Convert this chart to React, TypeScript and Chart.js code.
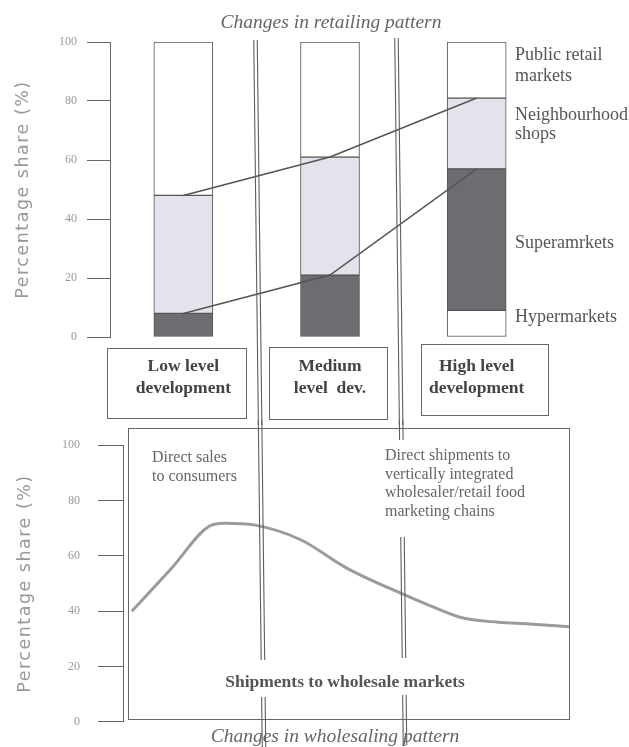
import React, { useEffect, useRef } from 'react';
import { Chart, registerables } from 'chart.js';

Chart.register(...registerables);

// ---------- data ----------
const developmentLevels = [
  ['Low level', 'development'],
  ['Medium', 'level  dev.'],
  ['High level', 'development'],
];
const hypermarkets = [0, 0, 9];
const supermarkets = [8, 21, 48];
const neighbourhoodShops = [40, 40, 24];
const publicRetailMarkets = [52, 39, 19];
const shareTicks = [0, 20, 40, 60, 80, 100];

// wholesaling curve (development index 0..100 across the panel)
const developmentIndex = [1, 10, 18.6, 22, 29, 39, 50, 62, 68.5, 76, 84, 91, 100];
const wholesaleShare = [40, 55.5, 70.8, 71.8, 71.1, 66, 55.3, 46.4, 42, 37.5, 36, 35.4, 34.4];

// ---------- decoration helpers ----------
type TextItem = { text: string; x: number; y: number; font: string; color: string; align: CanvasTextAlign };
type DoubleLine = { x0: number; y0: number; x1: number; y1: number; segments: number[][] };

const SERIF = '"Liberation Serif", "DejaVu Serif", serif';

const doubleLines: DoubleLine[] = [
  { x0: 255.5, y0: 40, x1: 264, y1: 747, segments: [[40, 660], [697, 747]] },
  { x0: 396.5, y0: 38, x1: 405, y1: 745, segments: [[38, 440], [537, 658], [695, 745]] },
];

const topTexts: TextItem[] = [
  { text: 'Changes in retailing pattern', x: 331, y: 23, font: `italic 19.5px ${SERIF}`, color: '#666', align: 'center' },
  { text: 'Public retail', x: 515, y: 55, font: `18px ${SERIF}`, color: '#555', align: 'left' },
  { text: 'markets', x: 515, y: 76, font: `18px ${SERIF}`, color: '#555', align: 'left' },
  { text: 'Neighbourhood', x: 515, y: 115, font: `18px ${SERIF}`, color: '#555', align: 'left' },
  { text: 'shops', x: 515, y: 134, font: `18px ${SERIF}`, color: '#555', align: 'left' },
  { text: 'Superamrkets', x: 515, y: 243, font: `18px ${SERIF}`, color: '#555', align: 'left' },
  { text: 'Hypermarkets', x: 515, y: 317, font: `18px ${SERIF}`, color: '#555', align: 'left' },
];

const bottomTexts: TextItem[] = [
  { text: 'Direct sales', x: 152, y: 458, font: `16px ${SERIF}`, color: '#666', align: 'left' },
  { text: 'to consumers', x: 152, y: 477, font: `16px ${SERIF}`, color: '#666', align: 'left' },
  { text: 'Direct shipments to', x: 385, y: 456, font: `16px ${SERIF}`, color: '#666', align: 'left' },
  { text: 'vertically integrated', x: 385, y: 475, font: `16px ${SERIF}`, color: '#666', align: 'left' },
  { text: 'wholesaler/retail food', x: 385, y: 493, font: `16px ${SERIF}`, color: '#666', align: 'left' },
  { text: 'marketing chains', x: 385, y: 512, font: `16px ${SERIF}`, color: '#666', align: 'left' },
  { text: 'Shipments to wholesale markets', x: 345, y: 682, font: `bold 17.5px ${SERIF}`, color: '#555', align: 'center' },
  { text: 'Changes in wholesaling pattern', x: 335, y: 737, font: `italic 19.5px ${SERIF}`, color: '#666', align: 'center' },
];

const topBoxes = [
  [107, 348, 246, 418],
  [269, 347, 387, 419],
  [421, 344, 548, 415],
];
const bottomBoxes = [[128, 428, 569, 719]];

function makeDecor(id: string, offsetY: number, texts: TextItem[], boxes: number[][]) {
  return {
    id,
    beforeDraw(chart: any) {
      const y = chart.scales.y;
      if (y && !y.__spaced) {
        const orig = y.drawTitle.bind(y);
        y.drawTitle = () => {
          const ctx = chart.ctx;
          ctx.save();
          (ctx as any).letterSpacing = '1.5px';
          orig();
          ctx.restore();
        };
        y.__spaced = true;
      }
    },
    afterDraw(chart: any) {
      const ctx: CanvasRenderingContext2D = chart.ctx;
      ctx.save();
      ctx.translate(0, -offsetY);
      ctx.strokeStyle = '#666';
      ctx.lineWidth = 1;
      boxes.forEach(([x1, y1, x2, y2]) => {
        ctx.strokeRect(x1 + 0.5, y1 + 0.5, x2 - x1, y2 - y1);
      });
      ctx.strokeStyle = '#5e5e5e';
      ctx.lineWidth = 1.1;
      doubleLines.forEach((l) => {
        const xAt = (y: number) => l.x0 + ((l.x1 - l.x0) * (y - l.y0)) / (l.y1 - l.y0);
        l.segments.forEach(([ya, yb]) => {
          [-1.75, 1.75].forEach((d) => {
            ctx.beginPath();
            ctx.moveTo(xAt(ya) + d, ya);
            ctx.lineTo(xAt(yb) + d, yb);
            ctx.stroke();
          });
        });
      });
      texts.forEach((t) => {
        ctx.font = t.font;
        ctx.fillStyle = t.color;
        ctx.textAlign = t.align;
        ctx.textBaseline = 'middle';
        ctx.fillText(t.text, t.x, t.y);
      });
      ctx.restore();
    },
  };
}

function yAxis(width: number, tickLength: number, labelPad: number, titleTop: number) {
  return {
    min: 0,
    max: 100,
    afterBuildTicks: (s: any) => {
      s.ticks = shareTicks.map((v) => ({ value: v }));
    },
    afterFit: (s: any) => {
      s.width = width;
    },
    grid: { drawOnChartArea: false, drawTicks: true, tickLength, color: '#666', lineWidth: 1 },
    border: { display: true, color: '#666', width: 1 },
    ticks: { font: { family: 'Liberation Serif', size: 12 }, color: '#999', padding: labelPad },
    title: {
      display: true,
      text: 'Percentage share (%)',
      font: { family: 'DejaVu Sans', size: 17.5 },
      color: '#999',
      padding: { top: titleTop, bottom: 0 },
    },
  };
}

export default function App() {
  const topRef = useRef<HTMLCanvasElement>(null);
  const bottomRef = useRef<HTMLCanvasElement>(null);

  useEffect(() => {
    const superTop = hypermarkets.map((h, i) => h + supermarkets[i]);
    const neighTop = superTop.map((s, i) => s + neighbourhoodShops[i]);
    const barStyle = { borderColor: '#555', borderWidth: 1, borderSkipped: false, barThickness: 59, order: 1 };

    const top = new Chart(topRef.current!, {
      type: 'bar',
      data: {
        labels: developmentLevels as any,
        datasets: [
          { label: 'Hypermarkets', data: hypermarkets, backgroundColor: '#ffffff', ...barStyle } as any,
          { label: 'Supermarkets', data: supermarkets, backgroundColor: '#6c6c71', ...barStyle },
          { label: 'Neighbourhood shops', data: neighbourhoodShops, backgroundColor: '#e3e3ec', ...barStyle },
          { label: 'Public retail markets', data: publicRetailMarkets, backgroundColor: '#ffffff', ...barStyle },
          {
            type: 'line', label: 'Supermarkets trend', data: superTop, stack: 't1', order: 0,
            borderColor: '#555', borderWidth: 1.5, pointRadius: 0, tension: 0,
          },
          {
            type: 'line', label: 'Neighbourhood trend', data: neighTop, stack: 't2', order: 0,
            borderColor: '#555', borderWidth: 1.5, pointRadius: 0, tension: 0,
          },
        ],
      },
      options: {
        responsive: false,
        maintainAspectRatio: false,
        animation: false,
        layout: { padding: { top: 42, right: 79, bottom: 0, left: 0 } },
        plugins: { legend: { display: false }, tooltip: { enabled: false } },
        scales: {
          x: {
            stacked: true,
            grid: { display: false, drawTicks: false },
            border: { display: false },
            ticks: {
              font: { family: 'Liberation Serif', size: 17.5, weight: 'bold', lineHeight: '22px' },
              color: '#444',
              padding: 18,
            },
            afterFit: (s: any) => {
              s.height = 88;
            },
          },
          y: { stacked: true, ...yAxis(110, 23, 10, 13) } as any,
        },
      },
      plugins: [makeDecor('decorTop', 0, topTexts, topBoxes)],
    });

    const bottom = new Chart(bottomRef.current!, {
      type: 'line',
      data: {
        datasets: [
          {
            label: 'Shipments to wholesale markets',
            data: developmentIndex.map((x, i) => ({ x, y: wholesaleShare[i] })),
            borderColor: '#9b9b9b',
            borderWidth: 3,
            pointRadius: 0,
            tension: 0.4,
            cubicInterpolationMode: 'monotone',
            fill: false,
          },
        ],
      },
      options: {
        responsive: false,
        maintainAspectRatio: false,
        animation: false,
        layout: { padding: { top: 11, right: 60, bottom: 25, left: 0 } },
        plugins: { legend: { display: false }, tooltip: { enabled: false } },
        scales: {
          x: { type: 'linear', min: -1, max: 100, display: false },
          y: yAxis(123, 25, 18, 15) as any,
        },
      },
      plugins: [makeDecor('decorBottom', 420, bottomTexts, bottomBoxes)],
    });

    return () => {
      top.destroy();
      bottom.destroy();
    };
  }, []);

  return (
    <div style={{ position: 'absolute', left: 0, top: 0, width: 629, height: 747, background: '#fff' }}>
      <canvas ref={topRef} width={629} height={425} style={{ position: 'absolute', left: 0, top: 0 }} />
      <canvas ref={bottomRef} width={629} height={327} style={{ position: 'absolute', left: 0, top: 420 }} />
    </div>
  );
}
